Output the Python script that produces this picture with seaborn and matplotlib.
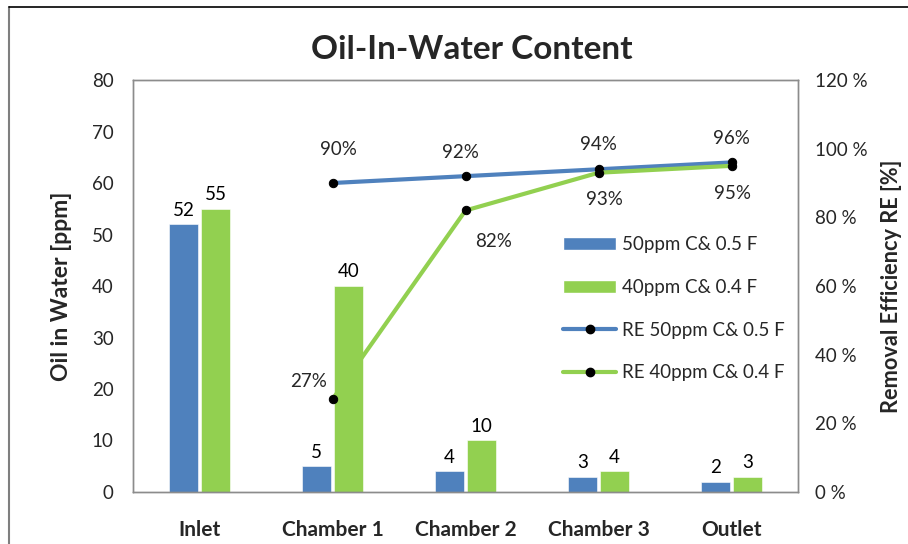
import matplotlib
matplotlib.use("Agg")
import matplotlib.pyplot as plt
from matplotlib.lines import Line2D
from matplotlib.patches import Patch
import numpy as np
import pandas as pd
import seaborn as sns

# Oil-in-water content along the separator
stages = ["Inlet", "Chamber 1", "Chamber 2", "Chamber 3", "Outlet"]
oiw_50 = [52, 5, 4, 3, 2]
oiw_40 = [55, 40, 10, 4, 3]

# Removal efficiency (chambers onward)
re_stages = ["Chamber 1", "Chamber 2", "Chamber 3", "Outlet"]
re_50 = [0.90, 0.92, 0.94, 0.96]
re_40 = [0.27, 0.82, 0.93, 0.95]

series_names = ["50ppm C& 0.5 F", "40ppm C& 0.4 F"]
re_names = ["RE 50ppm C& 0.5 F", "RE 40ppm C& 0.4 F"]

BLUE = "#4F81BD"
GREEN = "#92D050"

sns.set_theme(style="white")
plt.rcParams["font.family"] = ["Lato", "DejaVu Sans"]

df = pd.DataFrame({
    "stage": stages * 2,
    "oiw": oiw_50 + oiw_40,
    "series": [series_names[0]] * len(stages) + [series_names[1]] * len(stages),
})

fig = plt.figure(figsize=(9.08, 5.44), dpi=100)
ax = fig.add_axes([0.1465, 0.0956, 0.7324, 0.7573])

sns.barplot(data=df, x="stage", y="oiw", hue="series", order=stages,
            hue_order=series_names, palette=[BLUE, GREEN], saturation=1,
            width=0.48, gap=0.08, ax=ax, legend=False,
            edgecolor="white", linewidth=0.4)

for cont in ax.containers:
    ax.bar_label(cont, fmt="%d", padding=4, fontsize=13.5, color="#000000")

ax.set_ylim(0, 80)
ax.set_yticks(np.arange(0, 81, 10))
ax.set_xlim(-0.5, len(stages) - 0.5)
ax.set_xlabel("")
ax.set_ylabel("Oil in Water [ppm]", fontsize=16.5, fontweight="bold", labelpad=14)
ax.tick_params(axis="y", labelsize=13.5, length=0, pad=14)
ax.tick_params(axis="x", labelsize=15, length=0, pad=20)
for lbl in ax.get_xticklabels():
    lbl.set_fontweight("bold")

# Removal efficiency on the secondary axis
ax2 = ax.twinx()
xpos = [stages.index(s) for s in re_stages]
re_df = pd.DataFrame({
    "x": xpos * 2,
    "re": re_50 + re_40,
    "series": [re_names[0]] * len(xpos) + [re_names[1]] * len(xpos),
})
sns.lineplot(data=re_df, x="x", y="re", hue="series", hue_order=re_names,
             palette=[BLUE, GREEN], linewidth=3, marker="o", markersize=6,
             markerfacecolor="black", markeredgecolor="black", ax=ax2, legend=False,
             solid_capstyle="round")
ax2.set_xlim(-0.5, len(stages) - 0.5)
ax2.set_ylim(0, 1.2)
ax2.set_yticks(np.arange(0, 1.21, 0.2))
ax2.set_yticklabels([f"{int(round(v * 100))} %" for v in np.arange(0, 1.21, 0.2)])
ax2.set_xlabel("")
ax2.set_ylabel("Removal Efficiency RE [%]", fontsize=15.7, fontweight="bold", labelpad=10)
ax2.tick_params(axis="y", labelsize=13.5, length=0, pad=12)

offsets_50 = [(4, 24), (-4, 17), (0, 18), (0, 17)]
offsets_40 = [(-17, 13), (20, -22), (4, -19), (1, -20)]
for x, v, off in zip(xpos, re_50, offsets_50):
    ax2.annotate(f"{int(round(v * 100))}%", (x, v), xytext=off, textcoords="offset points",
                 ha="center", va="center", fontsize=13.5)
for x, v, off in zip(xpos, re_40, offsets_40):
    ax2.annotate(f"{int(round(v * 100))}%", (x, v), xytext=off, textcoords="offset points",
                 ha="center", va="center", fontsize=13.5)

for a in (ax, ax2):
    for sp in a.spines.values():
        sp.set_color("#8C8C8C")
        sp.set_linewidth(1.0)

handles = [
    Patch(facecolor=BLUE, label=series_names[0]),
    Patch(facecolor=GREEN, label=series_names[1]),
    Line2D([], [], color=BLUE, lw=3, marker="o", markersize=6, markerfacecolor="black",
           markeredgecolor="black", solid_capstyle="round", label=re_names[0]),
    Line2D([], [], color=GREEN, lw=3, marker="o", markersize=6, markerfacecolor="black",
           markeredgecolor="black", solid_capstyle="round", label=re_names[1]),
]
ax2.legend(handles=handles, loc="upper left", bbox_to_anchor=(0.636, 0.64),
           frameon=False, fontsize=13.5, handlelength=2.8, labelspacing=1.38,
           handletextpad=0.3, borderaxespad=0)

fig.suptitle("Oil-In-Water Content", fontsize=24, fontweight="bold", x=0.52, y=0.935,
             va="top")

# outer frame edges
fig.add_artist(Line2D([0.0099, 0.0099], [0, 0.987], transform=fig.transFigure,
                      color="#7F7F7F", lw=1.5))
fig.add_artist(Line2D([0.0099, 1.0], [0.987, 0.987], transform=fig.transFigure,
                      color="#000000", lw=1.2))

fig.savefig("out.png", dpi=100)
